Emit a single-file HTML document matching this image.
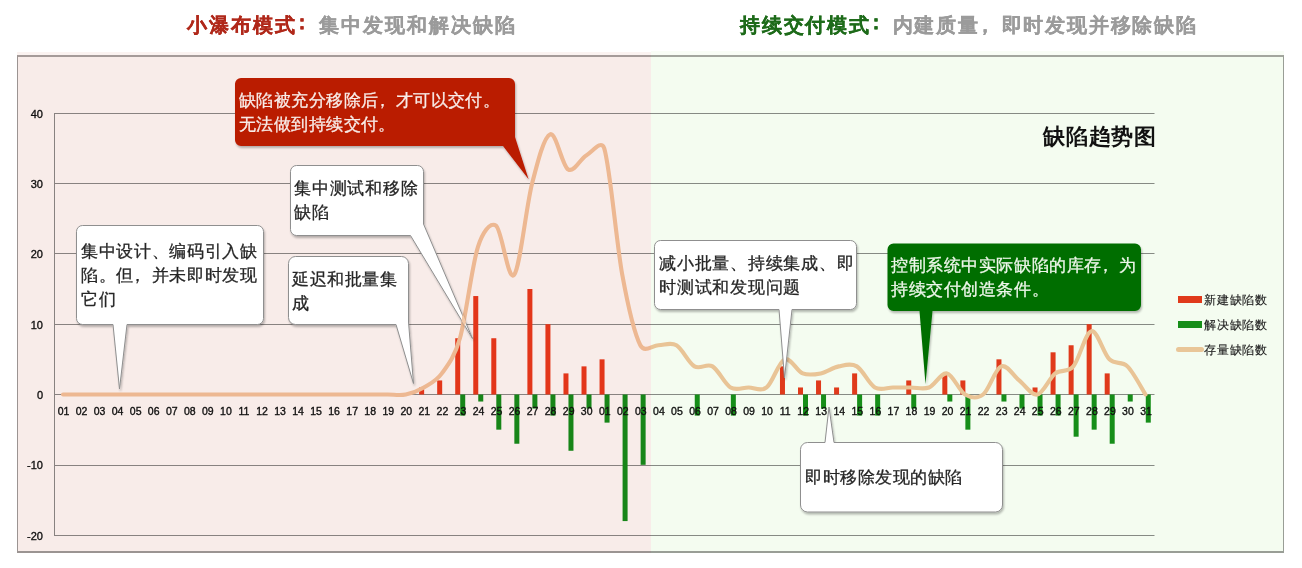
<!DOCTYPE html>
<html><head><meta charset="utf-8">
<style>
html,body{margin:0;padding:0;background:#fff;}
body{width:1302px;height:568px;position:relative;overflow:hidden;font-family:"Liberation Sans",sans-serif;}
.chart{position:absolute;left:0;top:0;}
.ov{position:absolute;mix-blend-mode:multiply;}
.t{position:absolute;white-space:nowrap;}
.xl{position:absolute;font-size:10.5px;color:#111;-webkit-text-stroke:0.35px #111;width:20px;text-align:center;line-height:12px;}
.yl{position:absolute;font-size:11px;color:#111;-webkit-text-stroke:0.35px #111;width:30px;text-align:right;line-height:12px;}
.co{position:absolute;left:0;top:0;}
.cl{position:relative;left:-5.3px;top:-3.5px}
.cm{position:relative;left:-5px}
.pc{position:relative;left:-4.5px}
.ct{position:absolute;font-size:17px;letter-spacing:0.65px;line-height:23.8px;color:#333;white-space:nowrap;-webkit-text-stroke:0.3px currentColor;}
</style></head><body>

<svg class="chart" width="1302" height="568" viewBox="0 0 1302 568">
<line x1="54.0" y1="113.5" x2="1154.5" y2="113.5" stroke="#8c8c8c" stroke-width="1"/>
<line x1="54.0" y1="183.5" x2="1154.5" y2="183.5" stroke="#8c8c8c" stroke-width="1"/>
<line x1="54.0" y1="253.5" x2="1154.5" y2="253.5" stroke="#8c8c8c" stroke-width="1"/>
<line x1="54.0" y1="324.5" x2="1154.5" y2="324.5" stroke="#8c8c8c" stroke-width="1"/>
<line x1="54.0" y1="394.5" x2="1154.5" y2="394.5" stroke="#8c8c8c" stroke-width="1"/>
<line x1="54.0" y1="465.5" x2="1154.5" y2="465.5" stroke="#8c8c8c" stroke-width="1"/>
<line x1="54.0" y1="535.5" x2="1154.5" y2="535.5" stroke="#8c8c8c" stroke-width="1"/>
<line x1="54.5" y1="113.0" x2="54.5" y2="536.0" stroke="#8c8c8c" stroke-width="1"/>
<rect x="419.14" y="387.47" width="5.00" height="7.03" fill="#ea3a1c"/>
<rect x="437.18" y="380.44" width="5.00" height="14.06" fill="#ea3a1c"/>
<rect x="455.22" y="338.24" width="5.00" height="56.26" fill="#ea3a1c"/>
<rect x="460.22" y="394.50" width="5.00" height="21.10" fill="#17901a"/>
<rect x="473.26" y="296.05" width="5.00" height="98.45" fill="#ea3a1c"/>
<rect x="478.26" y="394.50" width="5.00" height="7.03" fill="#17901a"/>
<rect x="491.30" y="338.24" width="5.00" height="56.26" fill="#ea3a1c"/>
<rect x="496.30" y="394.50" width="5.00" height="35.16" fill="#17901a"/>
<rect x="514.35" y="394.50" width="5.00" height="49.23" fill="#17901a"/>
<rect x="527.39" y="289.01" width="5.00" height="105.49" fill="#ea3a1c"/>
<rect x="532.39" y="394.50" width="5.00" height="14.06" fill="#17901a"/>
<rect x="545.43" y="324.18" width="5.00" height="70.33" fill="#ea3a1c"/>
<rect x="550.43" y="394.50" width="5.00" height="21.10" fill="#17901a"/>
<rect x="563.47" y="373.40" width="5.00" height="21.10" fill="#ea3a1c"/>
<rect x="568.47" y="394.50" width="5.00" height="56.26" fill="#17901a"/>
<rect x="581.51" y="366.37" width="5.00" height="28.13" fill="#ea3a1c"/>
<rect x="586.51" y="394.50" width="5.00" height="14.06" fill="#17901a"/>
<rect x="599.55" y="359.34" width="5.00" height="35.16" fill="#ea3a1c"/>
<rect x="604.55" y="394.50" width="5.00" height="28.13" fill="#17901a"/>
<rect x="622.59" y="394.50" width="5.00" height="126.58" fill="#17901a"/>
<rect x="640.63" y="394.50" width="5.00" height="70.33" fill="#17901a"/>
<rect x="694.75" y="394.50" width="5.00" height="21.10" fill="#17901a"/>
<rect x="730.84" y="394.50" width="5.00" height="21.10" fill="#17901a"/>
<rect x="779.96" y="366.37" width="5.00" height="28.13" fill="#ea3a1c"/>
<rect x="798.00" y="387.47" width="5.00" height="7.03" fill="#ea3a1c"/>
<rect x="803.00" y="394.50" width="5.00" height="21.10" fill="#17901a"/>
<rect x="816.04" y="380.44" width="5.00" height="14.06" fill="#ea3a1c"/>
<rect x="821.04" y="394.50" width="5.00" height="14.06" fill="#17901a"/>
<rect x="834.08" y="387.47" width="5.00" height="7.03" fill="#ea3a1c"/>
<rect x="852.12" y="373.40" width="5.00" height="21.10" fill="#ea3a1c"/>
<rect x="857.12" y="394.50" width="5.00" height="21.10" fill="#17901a"/>
<rect x="875.16" y="394.50" width="5.00" height="21.10" fill="#17901a"/>
<rect x="906.25" y="380.44" width="5.00" height="14.06" fill="#ea3a1c"/>
<rect x="911.25" y="394.50" width="5.00" height="14.06" fill="#17901a"/>
<rect x="942.33" y="373.40" width="5.00" height="21.10" fill="#ea3a1c"/>
<rect x="947.33" y="394.50" width="5.00" height="7.03" fill="#17901a"/>
<rect x="960.37" y="380.44" width="5.00" height="14.06" fill="#ea3a1c"/>
<rect x="965.37" y="394.50" width="5.00" height="35.16" fill="#17901a"/>
<rect x="996.45" y="359.34" width="5.00" height="35.16" fill="#ea3a1c"/>
<rect x="1001.45" y="394.50" width="5.00" height="7.03" fill="#17901a"/>
<rect x="1019.49" y="394.50" width="5.00" height="14.06" fill="#17901a"/>
<rect x="1032.53" y="387.47" width="5.00" height="7.03" fill="#ea3a1c"/>
<rect x="1037.53" y="394.50" width="5.00" height="21.10" fill="#17901a"/>
<rect x="1050.57" y="352.31" width="5.00" height="42.20" fill="#ea3a1c"/>
<rect x="1055.57" y="394.50" width="5.00" height="21.10" fill="#17901a"/>
<rect x="1068.62" y="345.27" width="5.00" height="49.23" fill="#ea3a1c"/>
<rect x="1073.62" y="394.50" width="5.00" height="42.20" fill="#17901a"/>
<rect x="1086.66" y="324.18" width="5.00" height="70.33" fill="#ea3a1c"/>
<rect x="1091.66" y="394.50" width="5.00" height="35.16" fill="#17901a"/>
<rect x="1104.70" y="373.40" width="5.00" height="21.10" fill="#ea3a1c"/>
<rect x="1109.70" y="394.50" width="5.00" height="49.23" fill="#17901a"/>
<rect x="1127.74" y="394.50" width="5.00" height="7.03" fill="#17901a"/>
<rect x="1145.78" y="394.50" width="5.00" height="28.13" fill="#17901a"/>
<path d="M63.02,394.50 C66.03,394.50 75.05,394.50 81.06,394.50 C87.08,394.50 93.09,394.50 99.10,394.50 C105.12,394.50 111.13,394.50 117.14,394.50 C123.16,394.50 129.17,394.50 135.18,394.50 C141.20,394.50 147.21,394.50 153.23,394.50 C159.24,394.50 165.25,394.50 171.27,394.50 C177.28,394.50 183.29,394.50 189.31,394.50 C195.32,394.50 201.33,394.50 207.35,394.50 C213.36,394.50 219.38,394.50 225.39,394.50 C231.40,394.50 237.42,394.50 243.43,394.50 C249.44,394.50 255.46,394.50 261.47,394.50 C267.48,394.50 273.50,394.50 279.51,394.50 C285.53,394.50 291.54,394.50 297.55,394.50 C303.57,394.50 309.58,394.50 315.59,394.50 C321.61,394.50 327.62,394.50 333.64,394.50 C339.65,394.50 345.66,394.50 351.68,394.50 C357.69,394.50 363.70,394.50 369.72,394.50 C375.73,394.50 381.74,394.50 387.76,394.50 C393.77,394.50 399.79,395.67 405.80,394.50 C411.81,393.33 417.83,390.98 423.84,387.47 C429.85,383.95 435.87,381.61 441.88,373.40 C447.89,365.20 454.51,357.24 459.92,338.24 C465.94,317.14 471.95,265.57 477.96,246.82 C482.20,233.60 489.99,221.03 496.00,225.72 C502.02,230.41 508.03,281.98 514.05,274.95 C520.06,267.91 526.07,206.97 532.09,183.53 C538.10,160.08 544.11,136.64 550.13,134.30 C556.14,131.95 562.15,165.94 568.17,169.46 C574.18,172.98 580.20,158.91 586.21,155.40 C592.22,151.88 601.45,139.09 604.25,148.36 C610.26,168.29 616.28,242.13 622.29,274.95 C628.30,307.77 634.32,333.55 640.33,345.27 C644.45,353.30 652.36,345.27 658.37,345.27 C664.39,345.27 670.40,341.76 676.41,345.27 C682.43,348.79 688.44,362.85 694.45,366.37 C700.47,369.89 706.48,362.85 712.50,366.37 C718.51,369.89 724.52,383.95 730.54,387.47 C736.55,390.98 742.56,387.47 748.58,387.47 C754.59,387.47 760.61,392.16 766.62,387.47 C772.63,382.78 778.65,361.68 784.66,359.34 C790.67,356.99 796.69,371.06 802.70,373.40 C808.71,375.75 814.73,374.57 820.74,373.40 C826.76,372.23 832.77,367.54 838.78,366.37 C844.80,365.20 850.81,362.85 856.82,366.37 C862.84,369.89 868.85,383.95 874.86,387.47 C880.88,390.98 886.89,387.47 892.91,387.47 C898.92,387.47 904.93,387.47 910.95,387.47 C916.96,387.47 922.97,389.81 928.99,387.47 C935.00,385.12 941.02,372.23 947.03,373.40 C953.04,374.57 959.06,390.98 965.07,394.50 C971.08,398.02 977.10,399.19 983.11,394.50 C989.12,389.81 995.14,368.71 1001.15,366.37 C1007.17,364.03 1013.18,375.75 1019.19,380.44 C1025.21,385.12 1031.22,395.67 1037.23,394.50 C1043.25,393.33 1049.26,378.09 1055.27,373.40 C1061.29,368.71 1067.30,373.40 1073.32,366.37 C1079.33,359.34 1085.34,332.38 1091.36,331.21 C1097.37,330.04 1103.38,353.48 1109.40,359.34 C1115.41,365.20 1121.42,360.51 1127.44,366.37 C1133.45,372.23 1142.47,389.81 1145.48,394.50" fill="none" stroke="#f4c7a0" stroke-width="4.1" stroke-linejoin="round" stroke-linecap="round"/>
<rect x="1178" y="296" width="24" height="7" fill="#ea3a1c"/>
<rect x="1178" y="321" width="24" height="7" fill="#17901a"/>
<line x1="1178.5" y1="349.5" x2="1201.5" y2="349.5" stroke="#f4c9a2" stroke-width="5" stroke-linecap="round"/>
</svg>
<div class="xl" style="left:53.5px;top:405px">01</div>
<div class="xl" style="left:71.6px;top:405px">02</div>
<div class="xl" style="left:89.6px;top:405px">03</div>
<div class="xl" style="left:107.6px;top:405px">04</div>
<div class="xl" style="left:125.7px;top:405px">05</div>
<div class="xl" style="left:143.7px;top:405px">06</div>
<div class="xl" style="left:161.8px;top:405px">07</div>
<div class="xl" style="left:179.8px;top:405px">08</div>
<div class="xl" style="left:197.8px;top:405px">09</div>
<div class="xl" style="left:215.9px;top:405px">10</div>
<div class="xl" style="left:233.9px;top:405px">11</div>
<div class="xl" style="left:252.0px;top:405px">12</div>
<div class="xl" style="left:270.0px;top:405px">13</div>
<div class="xl" style="left:288.1px;top:405px">14</div>
<div class="xl" style="left:306.1px;top:405px">15</div>
<div class="xl" style="left:324.1px;top:405px">16</div>
<div class="xl" style="left:342.2px;top:405px">17</div>
<div class="xl" style="left:360.2px;top:405px">18</div>
<div class="xl" style="left:378.3px;top:405px">19</div>
<div class="xl" style="left:396.3px;top:405px">20</div>
<div class="xl" style="left:414.3px;top:405px">21</div>
<div class="xl" style="left:432.4px;top:405px">22</div>
<div class="xl" style="left:450.4px;top:405px">23</div>
<div class="xl" style="left:468.5px;top:405px">24</div>
<div class="xl" style="left:486.5px;top:405px">25</div>
<div class="xl" style="left:504.5px;top:405px">26</div>
<div class="xl" style="left:522.6px;top:405px">27</div>
<div class="xl" style="left:540.6px;top:405px">28</div>
<div class="xl" style="left:558.7px;top:405px">29</div>
<div class="xl" style="left:576.7px;top:405px">30</div>
<div class="xl" style="left:594.8px;top:405px">01</div>
<div class="xl" style="left:612.8px;top:405px">02</div>
<div class="xl" style="left:630.8px;top:405px">03</div>
<div class="xl" style="left:648.9px;top:405px">04</div>
<div class="xl" style="left:666.9px;top:405px">05</div>
<div class="xl" style="left:685.0px;top:405px">06</div>
<div class="xl" style="left:703.0px;top:405px">07</div>
<div class="xl" style="left:721.0px;top:405px">08</div>
<div class="xl" style="left:739.1px;top:405px">09</div>
<div class="xl" style="left:757.1px;top:405px">10</div>
<div class="xl" style="left:775.2px;top:405px">11</div>
<div class="xl" style="left:793.2px;top:405px">12</div>
<div class="xl" style="left:811.2px;top:405px">13</div>
<div class="xl" style="left:829.3px;top:405px">14</div>
<div class="xl" style="left:847.3px;top:405px">15</div>
<div class="xl" style="left:865.4px;top:405px">16</div>
<div class="xl" style="left:883.4px;top:405px">17</div>
<div class="xl" style="left:901.4px;top:405px">18</div>
<div class="xl" style="left:919.5px;top:405px">19</div>
<div class="xl" style="left:937.5px;top:405px">20</div>
<div class="xl" style="left:955.6px;top:405px">21</div>
<div class="xl" style="left:973.6px;top:405px">22</div>
<div class="xl" style="left:991.7px;top:405px">23</div>
<div class="xl" style="left:1009.7px;top:405px">24</div>
<div class="xl" style="left:1027.7px;top:405px">25</div>
<div class="xl" style="left:1045.8px;top:405px">26</div>
<div class="xl" style="left:1063.8px;top:405px">27</div>
<div class="xl" style="left:1081.9px;top:405px">28</div>
<div class="xl" style="left:1099.9px;top:405px">29</div>
<div class="xl" style="left:1117.9px;top:405px">30</div>
<div class="xl" style="left:1136.0px;top:405px">31</div>
<div class="yl" style="left:13px;top:107.7px">40</div>
<div class="yl" style="left:13px;top:178.0px">30</div>
<div class="yl" style="left:13px;top:248.3px">20</div>
<div class="yl" style="left:13px;top:318.7px">10</div>
<div class="yl" style="left:13px;top:389.0px">0</div>
<div class="yl" style="left:13px;top:459.3px">-10</div>
<div class="yl" style="left:13px;top:529.6px">-20</div>
<div style="position:absolute;left:17px;top:55px;width:1265px;border:1px solid #a0a0a0;border-top:2px solid #aaa8a8;border-width:2px 1px 2px 1px;height:494px"></div>
<div class="ov" style="left:17px;top:55px;width:634px;height:498px;background:#f8ece9"></div>
<div class="ov" style="left:651px;top:55px;width:633px;height:498px;background:#f4fcf0"></div>
<div class="ov" style="left:17px;top:52px;width:634px;height:3px;background:#fbf3f1"></div>
<div class="ov" style="left:651px;top:51px;width:633px;height:4px;background:#f9fdf6"></div>
<svg class="co" width="1302" height="568"><defs><filter id="sh" x="-10%" y="-10%" width="130%" height="130%"><feGaussianBlur in="SourceAlpha" stdDeviation="1.2"/><feOffset dx="1" dy="1.5" result="o"/><feComponentTransfer><feFuncA type="linear" slope="0.28"/></feComponentTransfer><feMerge><feMergeNode/><feMergeNode in="SourceGraphic"/></feMerge></filter></defs>
<path d="M82.5,225.5 L257.5,225.5 A6.0,6.0 0 0 1 263.5,231.5 L263.5,318.5 A6.0,6.0 0 0 1 257.5,324.5 L127.0,324.5 L119.5,389.0 L113.0,324.5 L82.5,324.5 A6.0,6.0 0 0 1 76.5,318.5 L76.5,231.5 A6.0,6.0 0 0 1 82.5,225.5 Z" fill="#ffffff" stroke="#8f8f8f" stroke-width="1" filter="url(#sh)"/>
<path d="M296.5,165.5 L417.5,165.5 A6.0,6.0 0 0 1 423.5,171.5 L423.5,224.0 L472.5,338.5 L410.5,235.5 L296.5,235.5 A6.0,6.0 0 0 1 290.5,229.5 L290.5,171.5 A6.0,6.0 0 0 1 296.5,165.5 Z" fill="#ffffff" stroke="#8f8f8f" stroke-width="1" filter="url(#sh)"/>
<path d="M295.5,256.5 L401.5,256.5 A7.0,7.0 0 0 1 408.5,263.5 L408.5,322.0 L413.5,383.5 L396.0,324.5 L295.5,324.5 A7.0,7.0 0 0 1 288.5,317.5 L288.5,263.5 A7.0,7.0 0 0 1 295.5,256.5 Z" fill="#ffffff" stroke="#8f8f8f" stroke-width="1" filter="url(#sh)"/>
<path d="M241.0,78.0 L509.0,78.0 A6.0,6.0 0 0 1 515.0,84.0 L515.0,137.0 L528.6,179.2 L503.0,146.0 L241.0,146.0 A6.0,6.0 0 0 1 235.0,140.0 L235.0,84.0 A6.0,6.0 0 0 1 241.0,78.0 Z" fill="#ba1a03" filter="url(#sh)"/>
<path d="M893.5,243.5 L1135.0,243.5 A6.0,6.0 0 0 1 1141.0,249.5 L1141.0,305.0 A6.0,6.0 0 0 1 1135.0,311.0 L932.5,311.0 L925.5,384.0 L919.5,311.0 L893.5,311.0 A6.0,6.0 0 0 1 887.5,305.0 L887.5,249.5 A6.0,6.0 0 0 1 893.5,243.5 Z" fill="#046e03" filter="url(#sh)"/>
<path d="M660.5,240.5 L850.5,240.5 A6.0,6.0 0 0 1 856.5,246.5 L856.5,303.5 A6.0,6.0 0 0 1 850.5,309.5 L792.0,309.5 L784.5,378.0 L779.0,309.5 L660.5,309.5 A6.0,6.0 0 0 1 654.5,303.5 L654.5,246.5 A6.0,6.0 0 0 1 660.5,240.5 Z" fill="#ffffff" stroke="#8f8f8f" stroke-width="1" filter="url(#sh)"/>
<path d="M807.5,442.5 L825.0,442.5 L829.0,407.0 L834.0,442.5 L995.5,442.5 A7.0,7.0 0 0 1 1002.5,449.5 L1002.5,505.0 A7.0,7.0 0 0 1 995.5,512.0 L807.5,512.0 A7.0,7.0 0 0 1 800.5,505.0 L800.5,449.5 A7.0,7.0 0 0 1 807.5,442.5 Z" fill="#ffffff" stroke="#8f8f8f" stroke-width="1" filter="url(#sh)"/>
<clipPath id="cp2"><polygon points="409,236 425,222 474,341"/></clipPath><path clip-path="url(#cp2)" d="M63.02,394.50 C66.03,394.50 75.05,394.50 81.06,394.50 C87.08,394.50 93.09,394.50 99.10,394.50 C105.12,394.50 111.13,394.50 117.14,394.50 C123.16,394.50 129.17,394.50 135.18,394.50 C141.20,394.50 147.21,394.50 153.23,394.50 C159.24,394.50 165.25,394.50 171.27,394.50 C177.28,394.50 183.29,394.50 189.31,394.50 C195.32,394.50 201.33,394.50 207.35,394.50 C213.36,394.50 219.38,394.50 225.39,394.50 C231.40,394.50 237.42,394.50 243.43,394.50 C249.44,394.50 255.46,394.50 261.47,394.50 C267.48,394.50 273.50,394.50 279.51,394.50 C285.53,394.50 291.54,394.50 297.55,394.50 C303.57,394.50 309.58,394.50 315.59,394.50 C321.61,394.50 327.62,394.50 333.64,394.50 C339.65,394.50 345.66,394.50 351.68,394.50 C357.69,394.50 363.70,394.50 369.72,394.50 C375.73,394.50 381.74,394.50 387.76,394.50 C393.77,394.50 399.79,395.67 405.80,394.50 C411.81,393.33 417.83,390.98 423.84,387.47 C429.85,383.95 435.87,381.61 441.88,373.40 C447.89,365.20 454.51,357.24 459.92,338.24 C465.94,317.14 471.95,265.57 477.96,246.82 C482.20,233.60 489.99,221.03 496.00,225.72 C502.02,230.41 508.03,281.98 514.05,274.95 C520.06,267.91 526.07,206.97 532.09,183.53 C538.10,160.08 544.11,136.64 550.13,134.30 C556.14,131.95 562.15,165.94 568.17,169.46 C574.18,172.98 580.20,158.91 586.21,155.40 C592.22,151.88 601.45,139.09 604.25,148.36 C610.26,168.29 616.28,242.13 622.29,274.95 C628.30,307.77 634.32,333.55 640.33,345.27 C644.45,353.30 652.36,345.27 658.37,345.27 C664.39,345.27 670.40,341.76 676.41,345.27 C682.43,348.79 688.44,362.85 694.45,366.37 C700.47,369.89 706.48,362.85 712.50,366.37 C718.51,369.89 724.52,383.95 730.54,387.47 C736.55,390.98 742.56,387.47 748.58,387.47 C754.59,387.47 760.61,392.16 766.62,387.47 C772.63,382.78 778.65,361.68 784.66,359.34 C790.67,356.99 796.69,371.06 802.70,373.40 C808.71,375.75 814.73,374.57 820.74,373.40 C826.76,372.23 832.77,367.54 838.78,366.37 C844.80,365.20 850.81,362.85 856.82,366.37 C862.84,369.89 868.85,383.95 874.86,387.47 C880.88,390.98 886.89,387.47 892.91,387.47 C898.92,387.47 904.93,387.47 910.95,387.47 C916.96,387.47 922.97,389.81 928.99,387.47 C935.00,385.12 941.02,372.23 947.03,373.40 C953.04,374.57 959.06,390.98 965.07,394.50 C971.08,398.02 977.10,399.19 983.11,394.50 C989.12,389.81 995.14,368.71 1001.15,366.37 C1007.17,364.03 1013.18,375.75 1019.19,380.44 C1025.21,385.12 1031.22,395.67 1037.23,394.50 C1043.25,393.33 1049.26,378.09 1055.27,373.40 C1061.29,368.71 1067.30,373.40 1073.32,366.37 C1079.33,359.34 1085.34,332.38 1091.36,331.21 C1097.37,330.04 1103.38,353.48 1109.40,359.34 C1115.41,365.20 1121.42,360.51 1127.44,366.37 C1133.45,372.23 1142.47,389.81 1145.48,394.50" fill="none" stroke="#f5c9a6" stroke-width="4.6" stroke-linejoin="round"/>
</svg>
<div class="ct" style="left:81.0px;top:240.0px;color:#262626;letter-spacing:0.66px">集中设计、编码引入缺<br>陷。但<span class="pc">，</span>并未即时发现<br>它们</div>
<div class="ct" style="left:294.0px;top:177.0px;color:#262626;letter-spacing:0.75px">集中测试和移除<br>缺陷</div>
<div class="ct" style="left:292.0px;top:268.0px;color:#262626;letter-spacing:0.50px">延迟和批量集<br>成</div>
<div class="ct" style="left:239.0px;top:89.0px;color:#f8ece8;letter-spacing:0.42px">缺陷被充分移除后<span class="pc">，</span>才可以交付。<br>无法做到持续交付。</div>
<div class="ct" style="left:891.0px;top:254.0px;color:#eef7ea;letter-spacing:0.57px">控制系统中实际缺陷的库存<span class="pc">，</span>为<br>持续交付创造条件。</div>
<div class="ct" style="left:659.0px;top:252.0px;color:#262626;letter-spacing:0.77px">减小批量、持续集成、即<br>时测试和发现问题</div>
<div class="ct" style="left:805.0px;top:466.0px;color:#262626;letter-spacing:0.50px">即时移除发现的缺陷</div>
<div class="t" style="left:187px;top:12px;font-size:20px;letter-spacing:2px;line-height:26px;font-weight:bold;-webkit-text-stroke:0.3px currentColor"><span style="color:#b0281a;-webkit-text-stroke:0.25px #b0281a">小瀑布模式<span class="cl">：</span></span><span style="color:#9b9b9b;-webkit-text-stroke:0.25px #9b9b9b">集中发现和解决缺陷</span></div>
<div class="t" style="left:740px;top:12px;font-size:20px;line-height:26px;font-weight:bold;letter-spacing:1.8px;-webkit-text-stroke:0.3px currentColor"><span style="color:#1e6b1a;-webkit-text-stroke:0.25px #1e6b1a">持续交付模式<span class="cl">：</span></span><span style="color:#9b9b9b;-webkit-text-stroke:0.25px #9b9b9b">内建质量<span class="cm">，</span>即时发现并移除缺陷</span></div>
<div class="t" style="left:1043px;top:124px;font-size:22px;line-height:26px;font-weight:bold;letter-spacing:0.8px;color:#111">缺陷趋势图</div>
<div class="t" style="left:1204px;top:292.5px;font-size:12.2px;letter-spacing:0.8px;line-height:14px;color:#222;-webkit-text-stroke:0.15px #222">新建缺陷数</div>
<div class="t" style="left:1204px;top:317.5px;font-size:12.2px;letter-spacing:0.8px;line-height:14px;color:#222;-webkit-text-stroke:0.15px #222">解决缺陷数</div>
<div class="t" style="left:1204px;top:342.5px;font-size:12.2px;letter-spacing:0.8px;line-height:14px;color:#222;-webkit-text-stroke:0.15px #222">存量缺陷数</div>
</body></html>
